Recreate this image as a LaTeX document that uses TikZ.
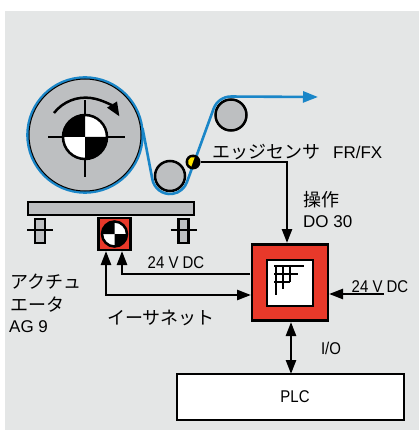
\documentclass[tikz,border=0pt]{standalone}
\usepackage{fontspec}
\usetikzlibrary{arrows.meta}
\newfontfamily\jpfont{Noto Sans CJK JP}
\newfontfamily\narrowfont[FakeStretch=0.88]{Liberation Sans}
\newfontfamily\widefont{Liberation Sans}
\definecolor{panelgray}{HTML}{E4E6E6}
\definecolor{rollgray}{HTML}{BDBFC1}
\definecolor{boxred}{HTML}{E8392A}
\definecolor{webblue}{HTML}{1A86C8}
\definecolor{sensoryellow}{HTML}{FFE600}
\begin{document}
\begin{tikzpicture}
[x=1pt,y=-1pt,
  rolldecorate/.style={shape=circle,inner sep=0pt,draw,line width=2.5pt,fill=rollgray},%
  boxdecorate/.style={shape=rectangle,inner sep=0pt,draw,line width=2.5pt},%
  linedecorate/.style={line width=2.5pt},%
  signal/.style={line width=2.5pt,-{Triangle[length=14pt,width=10pt]}},%
  signalboth/.style={line width=2.5pt,{Triangle[length=14pt,width=10pt]}-{Triangle[length=14pt,width=10pt]}},%
  webline/.style={line width=2.6pt,webblue},%
  jplabel/.style={inner sep=0pt,anchor=west,font=\fontsize{18}{18}\selectfont\jpfont},%
  narrowlabel/.style={inner sep=0pt,font=\fontsize{17}{17}\selectfont\narrowfont},%
  widelabel/.style={inner sep=0pt,anchor=west,font=\fontsize{17}{17}\selectfont\widefont}]
\useasboundingbox (0,0) rectangle (419,430);
\fill[panelgray] (5,11) rectangle (419,430);
%% web on the rolls
\draw[webline] (85,135) circle[radius=57.5];
\node (roll) at (85,135) [rolldecorate,line width=1pt,minimum size=112pt] {};
\node (rollerlow) at (170,176) [rolldecorate,minimum size=30pt] {};
\node (rollerhigh) at (231,115) [rolldecorate,minimum size=31pt] {};
\coordinate (webend) at (318,97);
\draw[webline,-{Triangle[length=15pt,width=11pt]}]
  (142.5,128) -- (152.2,178.5) arc[start angle=172,end angle=19,radius=18]
  -- (213.5,109) arc[start angle=199,end angle=270,radius=18.5] -- (webend);
%% hub with cross and turning arrow
\draw[linedecorate] (48,137) -- (125,137) (85,100) -- (85,177);
\fill[white] (85,137) circle[radius=22];
\fill (85,137) -- (107,137) arc[start angle=0,end angle=90,radius=22] -- cycle;
\fill (85,137) -- (63,137) arc[start angle=180,end angle=270,radius=22] -- cycle;
\node (hub) at (85,137) [shape=circle,inner sep=0pt,draw,line width=2.5pt,minimum size=44pt] {};
\draw[line width=2.5pt,-{Triangle[length=14pt,width=11pt]}]
  (54,113) arc[start angle=218,end angle=328,radius=40];
%% table and feet
\node (table) at (111,208.5) [boxdecorate,fill=rollgray,minimum width=166pt,minimum height=13pt] {};
\foreach \nodename/\x in {footleft/40, footright/183.5} {
  \node (\nodename) at (\x,231) [boxdecorate,fill=rollgray,minimum width=10pt,minimum height=24pt] {};
  \draw[linedecorate] (\x-13,230) -- (\x+13,230);
}
%% actuator
\node (motor) at (114.5,234) [boxdecorate,fill=boxred,minimum size=32pt] {};
\fill[white] (114.5,234) circle[radius=12];
\fill (114.5,234) -- (126.5,234) arc[start angle=0,end angle=90,radius=12] -- cycle;
\fill (114.5,234) -- (102.5,234) arc[start angle=180,end angle=270,radius=12] -- cycle;
\node (motorhub) at (114.5,234) [shape=circle,inner sep=0pt,draw,line width=2.5pt,minimum size=25pt] {};
%% controller
\node (controller) at (290,282.5) [boxdecorate,fill=boxred,minimum size=76pt] {};
\node (display) at (290,283) [boxdecorate,fill=white,minimum size=46pt] {};
\draw[linedecorate] (274,266) -- (304,266) (274,274) -- (298,274) (274,282) -- (290,282)
  (276,266) -- (276,295) (283,266) -- (283,289) (290,266) -- (290,282);
\node (plc) at (290.5,397) [boxdecorate,fill=white,minimum width=227pt,minimum height=46pt] {};
%% sensor
\node (sensor) at (193,162) [shape=circle,inner sep=0pt,fill=black,minimum size=15pt] {};
\fill[sensoryellow] (193,162) ++(-70:5) arc[start angle=-70,end angle=-250,radius=5] -- cycle;
%% connectors
\coordinate (sensorin) at (287,243);
\coordinate (powermotor) at (122,251);
\coordinate (powerctrl) at (250,274);
\coordinate (ethermotor) at (106,251);
\coordinate (etherctrl) at (251,295);
\coordinate (powerfree) at (384,294);
\coordinate (powerin) at (329,294);
\coordinate (ioup) at (291,322);
\coordinate (iodown) at (291,374);
\draw[signal] (sensor.east) -| (sensorin);
\draw[signal] (powerctrl) -| (powermotor);
\draw[signalboth] (ethermotor) |- (etherctrl);
\draw[signal] (powerfree) -- (powerin);
\draw[signalboth] (ioup) -- (iodown);
%% labels
\foreach \nodename/\x/\y/\content in {
  edgelabel/212/152/エッジセンサ, operatelabel/303/200/操作, actlabela/10/282/アクチュ,
  actlabelb/10/305/エータ, etherlabel/107/318/イーサネット} {
  \node (\nodename) at (\x,\y) [jplabel] {\content};
}
\foreach \nodename/\x/\y/\content in {
  fxlabel/333/152/{FR/FX}, dolabel/303/222/DO 30, aglabel/9/327/AG 9} {
  \node (\nodename) at (\x,\y) [widelabel] {\content};
}
\foreach \nodename/\x/\y/\content in {
  powerleft/176/263/24 V DC, powerright/380/287/24 V DC, iolabel/331/348/{I/O}, plclabel/295/397/PLC} {
  \node (\nodename) at (\x,\y) [narrowlabel] {\content};
}
\end{tikzpicture}
\end{document}
